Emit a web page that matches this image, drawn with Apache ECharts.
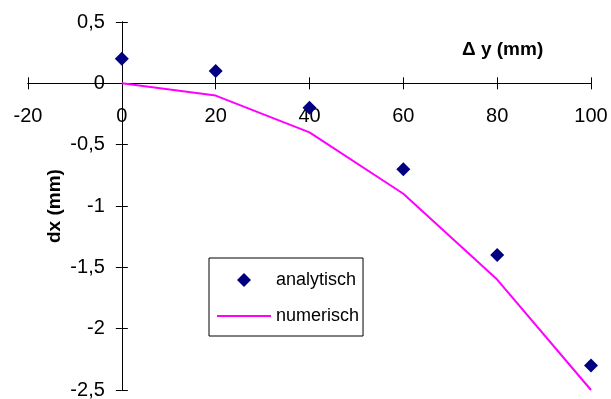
<!DOCTYPE html>
<html>
<head>
<meta charset="utf-8">
<script src="https://cdn.jsdelivr.net/npm/echarts@6/dist/echarts.min.js"></script>
<style>
  html, body { margin: 0; padding: 0; background: #fff; }
  #chart { width: 611px; height: 399px; }
</style>
</head>
<body>
<div id="chart"></div>
<script>
// Displacement dx versus Δy: analytical points and numerical curve
const deltaY = [0, 20, 40, 60, 80, 100];
const analytisch = [0.2, 0.1, -0.2, -0.7, -1.4, -2.3];
const numerisch = [0, -0.1, -0.4, -0.9, -1.6, -2.5];

const xMin = -20, xMax = 100, xStep = 20;
const yMin = -2.5, yMax = 0.5, yStep = 0.5;

const FONT = '"Liberation Sans", Arial, sans-serif';
const comma = v => String(v).replace('.', ',');

const chart = echarts.init(document.getElementById('chart'), null, { renderer: 'canvas' });

const lineStyle = { color: '#000', width: 1 };
const tick = { show: true, length: 6, lineStyle: { color: '#000' } };

// Axes are pairs on opposite sides of the grid; both are shifted onto the
// zero lines so their outward ticks together cross the axis line.
function xAxisPair(offBottom, offTop) {
  const base = {
    type: 'value', min: xMin, max: xMax, interval: xStep,
    splitLine: { show: false },
    axisLine: { onZero: false, lineStyle },
    axisTick: tick
  };
  return [
    Object.assign({}, base, {
      position: 'bottom', offset: offBottom,
      axisLabel: { color: '#000', fontFamily: FONT, fontSize: 20, margin: 23, formatter: comma }
    }),
    Object.assign({}, base, { position: 'top', offset: offTop, axisLabel: { show: false } })
  ];
}
function yAxisPair(offLeft, offRight) {
  const base = {
    type: 'value', min: yMin, max: yMax, interval: yStep,
    splitLine: { show: false },
    axisLine: { onZero: false, lineStyle },
    axisTick: tick
  };
  return [
    Object.assign({}, base, {
      position: 'left', offset: offLeft,
      axisLabel: { color: '#000', fontFamily: FONT, fontSize: 20, margin: 17, formatter: comma }
    }),
    Object.assign({}, base, { position: 'right', offset: offRight, axisLabel: { show: false } })
  ];
}

chart.setOption({
  animation: false,
  backgroundColor: '#fff',
  grid: { left: 28, right: 20, top: 22, bottom: 9, containLabel: false, outerBoundsMode: 'none' },
  xAxis: xAxisPair(0, 0),
  yAxis: yAxisPair(0, 0),
  legend: {
    orient: 'vertical',
    left: 209, top: 258,
    backgroundColor: '#fff',
    borderColor: '#000', borderWidth: 1, borderRadius: 0,
    padding: [13, 4, 11, 8],
    itemWidth: 54, itemHeight: 14, itemGap: 18,
    symbolKeepAspect: true,
    textStyle: { color: '#000', fontFamily: FONT, fontSize: 18, lineHeight: 18 },
    data: [
      { name: 'analytisch', icon: 'path://M7,0L14,7L7,14L0,7Z' },
      { name: 'numerisch', icon: 'path://M0,6H54V8H0Z' }
    ]
  },
  graphic: [
    {
      type: 'text', left: 462, top: 40,
      style: { text: 'Δ y (mm)', fill: '#000', font: 'bold 19px ' + FONT }
    },
    {
      type: 'text', x: 45, y: 243, rotation: Math.PI / 2,
      style: { text: 'dx (mm)', fill: '#000', font: 'bold 19px ' + FONT }
    }
  ],
  series: [
    {
      name: 'numerisch', type: 'line',
      data: deltaY.map((x, i) => [x, numerisch[i]]),
      showSymbol: false, symbol: 'none',
      lineStyle: { color: '#ff00ff', width: 2 },
      itemStyle: { color: '#ff00ff' },
      z: 2
    },
    {
      name: 'analytisch', type: 'scatter',
      data: deltaY.map((x, i) => [x, analytisch[i]]),
      symbol: 'diamond', symbolSize: 14,
      itemStyle: { color: '#000080', opacity: 1 },
      z: 3
    }
  ]
});

// Move the axis pairs onto x = 0 and y = 0 using the grid's own scales.
const pZero = chart.convertToPixel({ gridIndex: 0 }, [0, 0]);
const pLow = chart.convertToPixel({ gridIndex: 0 }, [xMin, yMin]);
const pHigh = chart.convertToPixel({ gridIndex: 0 }, [xMax, yMax]);
chart.setOption({
  xAxis: xAxisPair(-(pLow[1] - pZero[1]), -(pZero[1] - pHigh[1])),
  yAxis: yAxisPair(-(pZero[0] - pLow[0]), -(pHigh[0] - pZero[0]))
});
</script>
</body>
</html>
